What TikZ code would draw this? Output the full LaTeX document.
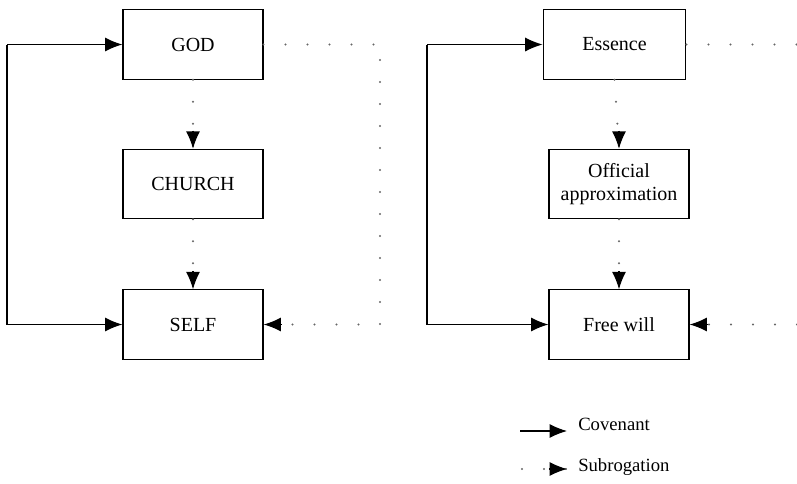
\documentclass[tikz,border=0pt]{standalone}
\usepackage{fontspec}
\setmainfont{Liberation Serif}
\usetikzlibrary{arrows.meta,calc}
\begin{document}
\begin{tikzpicture}[x=0.75pt,y=-0.75pt,
  box/.style={draw, line width=0.9pt, minimum width=105pt, minimum height=52pt, inner sep=0pt, align=center, font=\fontsize{15}{17.5}\selectfont},
  cov/.style={line width=0.9pt, -{Latex[length=13pt,width=10.5pt]}},
  sub/.style={line width=1.7pt, black!60, line cap=round, dash pattern=on 0pt off 16.5pt},
  tip/.style={line width=0.9pt, -{Latex[length=13pt,width=10.5pt]}},
  lab/.style={anchor=west, inner sep=0pt, font=\fontsize{14}{16}\selectfont}]
\useasboundingbox (0,0) rectangle (797,483);
% left group
\node[box] (god) at (193,44.5) {GOD};
\node[box] (church) at (193,184) {CHURCH};
\node[box] (self) at (193,324.5) {SELF};
\coordinate (gl) at (7,44.5);
\coordinate (sl) at (7,324.5);
\coordinate (gr) at (380,44.5);
\coordinate (sr) at (380,324.5);
\draw[cov] (sl) -- (self.west);
\draw[cov] (gl) -- (god.west);
\draw[line width=0.9pt] (gl) -- (sl);
\draw[sub] (god.south) -- (church.north);
\draw[sub] (church.south) -- (self.north);
\draw[sub] (god.east) -- (gr) -- (sr) -- (self.east);
% right group
\node[box, minimum width=107pt] (ess) at (614.5,44.5) {Essence};
\node[box] (off) at (619,184) {Official\\approximation};
\node[box] (free) at (619,324.5) {Free will};
\coordinate (el) at (427,44.5);
\coordinate (fl) at (427,324.5);
\coordinate (er) at (797,44.5);
\coordinate (fr) at (797,324.5);
\draw[line width=0.9pt] (el) -- (fl);
\draw[cov] (el) -- (ess.west);
\draw[cov] (fl) -- (free.west);
\draw[sub] (ess.east) -- (er);
\draw[sub] (fr) -- (free.east);
\draw[sub] (ess.south) -- (off.north);
\draw[sub] (off.south) -- (free.north);
% legend
\coordinate (c1) at (520,431);
\coordinate (c2) at (567,431);
\coordinate (s1) at (522,469);
\coordinate (s2) at (567,469);
\draw[cov] (c1) -- (c2);
\draw[sub] (s1) -- (s2);
\node[lab] (lc) at (578,424) {Covenant};
\node[lab] (ls) at (578,467) {Subrogation};
% arrow tips for dotted connectors
\draw[tip] ($(church.north)+(0,-18)$) -- (church.north);
\draw[tip] ($(self.north)+(0,-18)$) -- (self.north);
\draw[tip] ($(off.north)+(0,-18)$) -- (off.north);
\draw[tip] ($(free.north)+(0,-18)$) -- (free.north);
\draw[tip] ($(self.east)+(18,0)$) -- (self.east);
\draw[tip] ($(free.east)+(18,0)$) -- (free.east);
\draw[tip] ($(s2)+(-18,0)$) -- (s2);
\end{tikzpicture}
\end{document}
